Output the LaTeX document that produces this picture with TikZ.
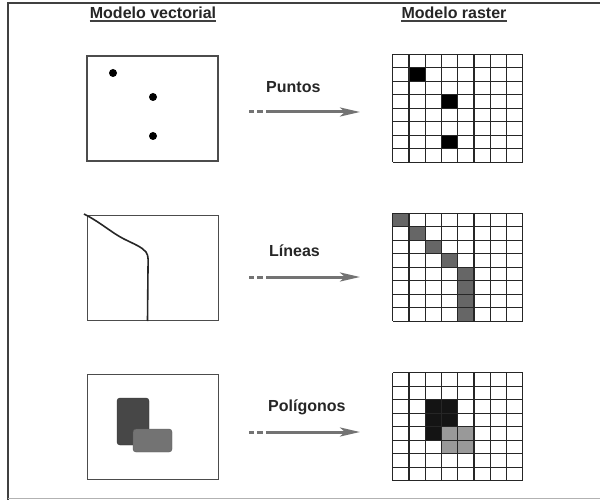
\documentclass[tikz,border=0pt]{standalone}
\usepackage{fontspec}
\setmainfont{Liberation Sans}
\usetikzlibrary{arrows.meta,positioning}
\tikzset{%
    >={Stealth[length=20pt,width=9pt,inset=5pt]},
    box/.style={draw=black!70,line width=1.4pt,minimum width=131pt,minimum height=105pt,inner sep=0pt},
    rgrid/.style={minimum width=130pt,minimum height=108pt,inner sep=0pt},
    gline/.style={draw=black!85,line width=1.3pt},
    title/.style={font=\fontsize{16}{19}\selectfont\bfseries,text=black!85,inner sep=0pt,anchor=base},
    lab/.style={font=\fontsize{16}{19}\selectfont\bfseries,text=black!85,inner sep=0pt,anchor=base west},
    conv/.style={->,draw=black!55,line width=3pt,dash pattern=on 5pt off 3pt on 6pt off 3pt on 200pt},
    uline/.style={black!75,line width=1.3pt},
    dot/.style={circle,fill=black,inner sep=0pt,minimum size=8pt},
    poly/.style={rounded corners=3pt}
}

\begin{document}
\begin{tikzpicture}[x=1pt,y=-1pt]
    \useasboundingbox (0,0) rectangle (600,500);
    \draw[black!75,line width=2pt] (600,3.5) -- (7.5,3.5) -- (7.5,500);
    \draw[black!30,line width=1.5pt] (7.5,498.5) -- (600,498.5);
    %%%%% titles
    \node[title] (tv) at (153,19) {Modelo vectorial};
    \node[title] (tr) at (454,19) {Modelo raster};
    \draw[uline] ([yshift=-2pt]tv.base west) -- ([yshift=-2pt]tv.base east);
    \draw[uline] ([yshift=-2pt]tr.base west) -- ([yshift=-2pt]tr.base east);
    %%%%% vector side
    \node[box] (v1) at (152.5,108.5) {};
    \node[box] (v2) at (153,268) {};
    \node[box] (v3) at (153,427) {};
    \node[dot] (p1) at (113,73) {};
    \node[dot] (p2) at (153,97) {};
    \node[dot] (p3) at (153,136) {};
    \draw[line width=1.6pt,black!85] (84,214) .. controls (100,222) and (112,233) .. (124,239)
        .. controls (134,244) and (142,247) .. (146,252)
        .. controls (149,256) and (148,262) .. (148,268) -- (147.5,321);
    \draw[poly,fill=black!72,draw=black!80] (117,398) rectangle (149,445);
    \draw[poly,fill=black!55,draw=black!65] (133,429) rectangle (172,452);
    %%%%% raster side
    \node[rgrid] (r1) at (458,108.5) {};
    \node[rgrid] (r2) at (458,267.5) {};
    \node[rgrid] (r3) at (458,427) {};
    \begin{scope}[shift={(r1.north west)},x=16.25pt,y=-13.5pt]
        \foreach \c/\r in {1/1,3/3,3/6} \fill[black] (\c,\r) rectangle ++(1,1);
        \foreach \k in {0,...,8} {\draw[gline] (\k,0) -- (\k,8); \draw[gline] (0,\k) -- (8,\k);}
    \end{scope}
    \begin{scope}[shift={(r2.north west)},x=16.25pt,y=-13.5pt]
        \foreach \c/\r in {0/0,1/1,2/2,3/3,4/4,4/5,4/6,4/7} \fill[black!60] (\c,\r) rectangle ++(1,1);
        \foreach \k in {0,...,8} {\draw[gline] (\k,0) -- (\k,8); \draw[gline] (0,\k) -- (8,\k);}
    \end{scope}
    \begin{scope}[shift={(r3.north west)},x=16.25pt,y=-13.5pt]
        \foreach \c/\r in {2/2,3/2,2/3,3/3,2/4} \fill[black!92] (\c,\r) rectangle ++(1,1);
        \foreach \c/\r in {3/4,4/4,3/5,4/5} \fill[black!40] (\c,\r) rectangle ++(1,1);
        \foreach \k in {0,...,8} {\draw[gline] (\k,0) -- (\k,8); \draw[gline] (0,\k) -- (8,\k);}
    \end{scope}
    %%%%% conversion arrows
    \coordinate (a1) at (249,112); \coordinate (b1) at (360,112);
    \coordinate (a2) at (249,277); \coordinate (b2) at (360,277);
    \coordinate (a3) at (249,432); \coordinate (b3) at (360,432);
    \draw[conv] (a1) -- (b1);
    \draw[conv] (a2) -- (b2);
    \draw[conv] (a3) -- (b3);
    \node[lab] (l1) at (266,93) {Puntos};
    \node[lab] (l2) at (269,256) {Líneas};
    \node[lab] (l3) at (268,411) {Polígonos};
\end{tikzpicture}
\end{document}
